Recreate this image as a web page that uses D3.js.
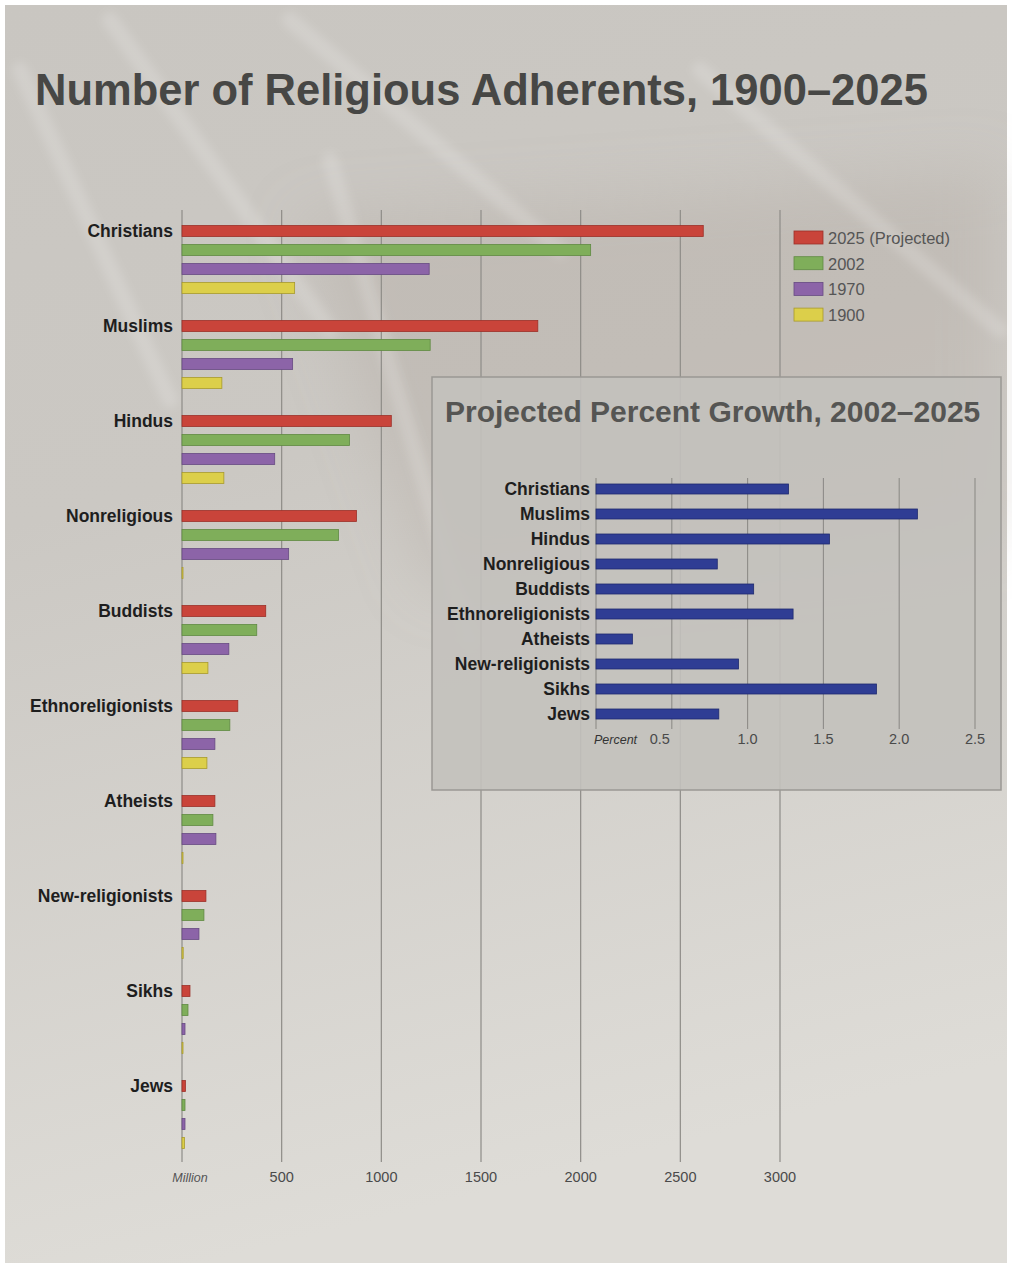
<!DOCTYPE html>
<html>
<head>
<meta charset="utf-8">
<script src="https://cdn.jsdelivr.net/npm/d3@7"></script>
<style>
  body { margin: 0; background: #fff; }
  svg { display: block; font-family: "Liberation Sans", Arial, sans-serif; }
</style>
</head>
<body>
<div id="chart"></div>
<script>
// Data (millions of adherents)
const religions = ["Christians", "Muslims", "Hindus", "Nonreligious", "Buddists",
  "Ethnoreligionists", "Atheists", "New-religionists", "Sikhs", "Jews"];
const years = ["2025 (Projected)", "2002", "1970", "1900"];
const yearColors = ["#c9443a", "#7fae5a", "#8c64a8", "#dccf4a"];
const yearStrokes = ["#9c3028", "#5f8a42", "#674a82", "#a89a2c"];

const v2025 = [2615, 1785, 1050, 875, 420, 280, 165, 120, 40, 17];
const v2002 = [2050, 1245, 840, 785, 375, 240, 155, 110, 30, 15];
const v1970 = [1240, 555, 465, 535, 235, 165, 170, 85, 15, 15];
const v1900 = [565, 200, 210, 3, 130, 125, 1, 6, 3, 12];
const series = [v2025, v2002, v1970, v1900];

const mainTicks = [500, 1000, 1500, 2000, 2500, 3000];

// Inset: projected percent growth 2002-2025
const growth = [1.27, 2.12, 1.54, 0.80, 1.04, 1.30, 0.24, 0.94, 1.85, 0.81];
const growthTicks = [0.5, 1.0, 1.5, 2.0, 2.5];

const W = 1012, H = 1268;
const svg = d3.select("#chart").append("svg")
    .attr("width", W)
    .attr("height", H);

// background
const defs = svg.append("defs");
const grad = defs.append("linearGradient")
    .attr("id", "bg").attr("x1", 0).attr("y1", 0).attr("x2", 0.2).attr("y2", 1);
grad.append("stop").attr("offset", "0%").attr("stop-color", "#c9c6c1");
grad.append("stop").attr("offset", "40%").attr("stop-color", "#cbc8c3");
grad.append("stop").attr("offset", "100%").attr("stop-color", "#dedcd7");

defs.append("filter").attr("id", "soft")
    .attr("x", "-20%").attr("y", "-20%").attr("width", "140%").attr("height", "140%")
  .append("feGaussianBlur").attr("stdDeviation", 30);
defs.append("filter").attr("id", "softer")
  .append("feGaussianBlur").attr("stdDeviation", 4);

svg.append("rect")
    .attr("x", 5).attr("y", 5)
    .attr("width", W - 10).attr("height", H - 10)
    .attr("fill", "url(#bg)");

// soft darker band + faint light streaks for texture
const bg = svg.append("g");
bg.append("path")
    .attr("d", "M300,220 L1000,170 L1000,540 L430,590 Z")
    .attr("fill", "#ada39d")
    .attr("fill-opacity", 0.3)
    .attr("filter", "url(#soft)");

const streaks = [
  [20, 70, 170, 400], [110, 20, 330, 330], [290, 20, 560, 250],
  [330, 160, 470, 640], [700, 70, 1000, 330]
];
bg.selectAll("line")
    .data(streaks)
    .enter()
    .append("line")
    .attr("x1", d => d[0]).attr("y1", d => d[1])
    .attr("x2", d => d[2]).attr("y2", d => d[3])
    .attr("stroke", "#ffffff")
    .attr("stroke-opacity", 0.16)
    .attr("stroke-width", 16)
    .attr("stroke-linecap", "round")
    .attr("filter", "url(#softer)");

// title
svg.append("text")
    .attr("x", 35).attr("y", 105)
    .attr("font-size", 43.5)
    .attr("font-weight", "bold")
    .attr("fill", "#474745")
    .text("Number of Religious Adherents, 1900\u20132025");

// main chart scales
const x = d3.scaleLinear().domain([0, 3000]).range([182, 780]);
const y = d3.scaleBand().domain(religions).range([221.5, 1171.5]);
const yInner = d3.scaleBand().domain(years).range([0, 76])
    .paddingInner(0.42).paddingOuter(0.21);

// gridlines
svg.append("g").selectAll("line")
    .data([0].concat(mainTicks))
    .enter()
    .append("line")
    .attr("x1", d => x(d)).attr("x2", d => x(d))
    .attr("y1", 210).attr("y2", 1162)
    .attr("stroke", "#8e8c88")
    .attr("stroke-width", 1.2);

// bars
const groups = svg.append("g").selectAll("g")
    .data(religions)
    .enter()
    .append("g")
    .attr("transform", d => `translate(0, ${y(d)})`);

groups.selectAll("rect")
    .data((d, i) => years.map((yr, j) => ({ yr, j, v: series[j][i] })))
    .enter()
    .append("rect")
    .attr("x", x(0))
    .attr("y", d => yInner(d.yr))
    .attr("width", d => Math.max(1, x(d.v) - x(0)))
    .attr("height", yInner.bandwidth())
    .attr("fill", d => yearColors[d.j])
    .attr("stroke", d => yearStrokes[d.j])
    .attr("stroke-width", 0.8);

// category labels
groups.append("text")
    .attr("x", 173)
    .attr("y", yInner(years[0]) + yInner.bandwidth() / 2)
    .attr("dy", "0.36em")
    .attr("text-anchor", "end")
    .attr("font-size", 17.5)
    .attr("font-weight", "bold")
    .attr("fill", "#1e1e1e")
    .text(d => d);

// x axis labels
svg.append("text")
    .attr("x", x(0) + 8).attr("y", 1182)
    .attr("text-anchor", "middle")
    .attr("font-size", 12.5)
    .attr("font-style", "italic")
    .attr("fill", "#555")
    .text("Million");

svg.append("g").selectAll("text")
    .data(mainTicks)
    .enter()
    .append("text")
    .attr("x", d => x(d))
    .attr("y", 1182)
    .attr("text-anchor", "middle")
    .attr("font-size", 14.5)
    .attr("fill", "#4a4a4a")
    .text(d => d);

// legend
const legend = svg.append("g").selectAll("g")
    .data(years)
    .enter()
    .append("g")
    .attr("transform", (d, i) => `translate(794, ${231 + i * 25.7})`);
legend.append("rect")
    .attr("width", 29).attr("height", 13)
    .attr("fill", (d, i) => yearColors[i])
    .attr("stroke", (d, i) => yearStrokes[i])
    .attr("stroke-width", 0.8);
legend.append("text")
    .attr("x", 34).attr("y", 7)
    .attr("dy", "0.36em")
    .attr("font-size", 16.5)
    .attr("fill", "#555")
    .text(d => d);

// inset panel
svg.append("rect")
    .attr("x", 432).attr("y", 377)
    .attr("width", 569).attr("height", 413)
    .attr("fill", "#c3c1bd")
    .attr("fill-opacity", 0.9)
    .attr("stroke", "#9a9894")
    .attr("stroke-width", 1.5);

svg.append("text")
    .attr("x", 445).attr("y", 422)
    .attr("font-size", 30)
    .attr("font-weight", "bold")
    .attr("fill", "#555553")
    .text("Projected Percent Growth, 2002\u20132025");

const gx = d3.scaleLinear().domain([0, 2.5]).range([596, 975]);
const gy = d3.scaleBand().domain(religions).range([476.5, 726.5])
    .paddingInner(0.6).paddingOuter(0.3);

svg.append("g").selectAll("line")
    .data([0].concat(growthTicks))
    .enter()
    .append("line")
    .attr("x1", d => gx(d)).attr("x2", d => gx(d))
    .attr("y1", 478).attr("y2", 729)
    .attr("stroke", "#8e8c88")
    .attr("stroke-width", 1.1);

svg.append("g").selectAll("rect")
    .data(religions)
    .enter()
    .append("rect")
    .attr("x", gx(0))
    .attr("y", d => gy(d))
    .attr("width", (d, i) => gx(growth[i]) - gx(0))
    .attr("height", gy.bandwidth())
    .attr("fill", "#2f3d94")
    .attr("stroke", "#1f2a6e")
    .attr("stroke-width", 0.8);

svg.append("g").selectAll("text")
    .data(religions)
    .enter()
    .append("text")
    .attr("x", 590)
    .attr("y", d => gy(d) + gy.bandwidth() / 2)
    .attr("dy", "0.36em")
    .attr("text-anchor", "end")
    .attr("font-size", 17.5)
    .attr("font-weight", "bold")
    .attr("fill", "#1e1e1e")
    .text(d => d);

svg.append("text")
    .attr("x", 594).attr("y", 744)
    .attr("font-size", 12.5)
    .attr("font-style", "italic")
    .attr("fill", "#333")
    .text("Percent");

svg.append("g").selectAll("text")
    .data(growthTicks)
    .enter()
    .append("text")
    .attr("x", (d, i) => i === 0 ? gx(d) - 12 : gx(d))
    .attr("y", 744)
    .attr("text-anchor", "middle")
    .attr("font-size", 14.5)
    .attr("fill", "#4a4a4a")
    .text(d => d.toFixed(1));
</script>
</body>
</html>
